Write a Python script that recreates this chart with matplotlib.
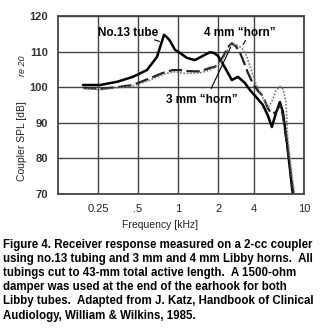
# receiver response on 2-cc coupler, no.13 tube vs Libby horns

import numpy as np
import matplotlib.pyplot as plt

plt.rcParams['font.family'] = ['Liberation Sans', 'DejaVu Sans']

# frequency (kHz) and coupler SPL (dB)
freq_tube = [0.193, 0.259, 0.348, 0.458, 0.584, 0.695, 0.745, 0.785, 0.827, 0.871,
             0.949, 1.035, 1.167, 1.338, 1.534, 1.729, 1.852, 1.983, 2.27, 2.60,
             2.93, 3.35, 3.70, 4.22, 4.72, 5.17, 5.56, 5.99, 6.44, 6.81, 7.33, 8.18]
spl_tube = [100.6, 100.6, 101.5, 102.9, 104.8, 108.5, 112.0, 114.7, 114.0, 113.0,
            110.5, 109.6, 108.2, 107.6, 108.8, 109.8, 109.6, 108.8, 105.5, 102.0,
            102.9, 101.2, 99.2, 97.0, 95.0, 92.0, 88.8, 92.7, 95.8, 93.0, 84.6, 69.5]

freq_3mm = [0.193, 0.259, 0.348, 0.458, 0.616, 0.771, 0.917, 1.035, 1.167, 1.457,
            1.729, 1.884, 2.06, 2.23, 2.41, 2.60, 2.81, 3.04, 3.29, 3.56,
            3.92, 4.30, 4.72, 5.17, 5.56, 5.99, 6.44, 6.81, 7.33, 8.33]
spl_3mm = [99.8, 99.5, 100.0, 100.6, 102.5, 104.0, 104.8, 104.8, 104.5, 104.4,
           105.4, 105.7, 107.3, 109.0, 111.3, 112.3, 111.5, 109.8, 107.0, 104.0,
           101.0, 99.0, 97.5, 94.0, 92.5, 93.0, 95.0, 92.0, 84.0, 69.0]

freq_4mm = [0.193, 0.259, 0.348, 0.458, 0.616, 0.771, 0.917, 1.167, 1.457, 1.729,
            2.06, 2.32, 2.50, 2.81, 3.16, 3.49, 3.77, 4.15, 4.63, 5.17,
            5.56, 5.99, 6.44, 6.81, 7.19, 7.46, 8.03, 8.48]
spl_4mm = [99.6, 99.3, 99.8, 100.3, 102.0, 103.5, 104.3, 103.8, 104.0, 104.8,
           106.5, 109.5, 111.8, 112.0, 111.0, 108.5, 105.0, 101.0, 97.5, 94.1,
           96.0, 99.0, 100.2, 99.5, 96.0, 85.0, 75.3, 69.5]

x_ticks = [0.25, 0.5, 1, 2, 4, 10]
x_labels = ['0.25', '.5', '1', '2', '4', '10']
y_ticks = [70, 80, 90, 100, 110, 120]

caption = ("Figure 4. Receiver response measured on a 2-cc coupler\n"
           "using no.13 tubing and 3 mm and 4 mm Libby horns.  All\n"
           "tubings cut to 43-mm total active length.  A 1500-ohm\n"
           "damper was used at the end of the earhook for both\n"
           "Libby tubes.  Adapted from J. Katz, Handbook of Clinical\n"
           "Audiology, William & Wilkins, 1985.")

# the printed frequency axis is not quite a clean log axis,
# so map octaves piecewise like the original grid
knot_f = np.log2([0.001, 0.125, 0.25, 0.5, 1, 2, 4, 10, 1000])
knot_x = np.array([-224.7, 57.5, 98, 138, 178, 218.5, 254, 304, 555])

def fwd(f):
    f = np.maximum(np.asarray(f, dtype=float), 1e-9)
    return np.interp(np.log2(f), knot_f, knot_x)

def inv(x):
    return 2 ** np.interp(x, knot_x, knot_f)

fig = plt.figure(figsize=(3.25, 3.28), dpi=100)
ax = fig.add_axes([0.177, 0.4085, 0.758, 0.543])
ax.set_xscale('function', functions=(fwd, inv))

ax.plot(freq_tube, spl_tube, color='black', lw=1.8, solid_capstyle='round')
ax.plot(freq_3mm, spl_3mm, color='#222222', lw=1.6, dashes=(6, 2))
ax.plot(freq_4mm, spl_4mm, color='#777777', lw=1.2, linestyle=(0, (1, 1)))

ax.set_xlim(0.125, 10)
ax.set_ylim(70, 120)
ax.set_xticks(x_ticks)
ax.set_xticklabels(x_labels)
ax.set_yticks(y_ticks)
ax.minorticks_off()
ax.grid(True, color='#444444', lw=1.0)
ax.tick_params(length=0, pad=7)
for lab in ax.get_xticklabels():
    lab.set_fontsize(8)
    lab.set_color('#222222')
for lab in ax.get_yticklabels():
    lab.set_fontsize(8)
    lab.set_fontweight('bold')
    lab.set_color('#333333')
for s in ax.spines.values():
    s.set_color('#444444')
    s.set_linewidth(1.3)

ax.set_xlabel('Frequency [kHz]', fontsize=7.5, color='#222222')
ax.xaxis.set_label_coords(0.417, -0.145)

fig.text(0.068, 0.57, 'Coupler SPL [dB]', rotation=90, fontsize=7.5,
         color='#222222', ha='center', va='center')
fig.text(0.068, 0.80, 're 20', rotation=90, fontsize=6.5, style='italic',
         color='#222222', ha='center', va='center')

# curve labels with leader lines
ax.text(0.42, 115.2, 'No.13 tube', fontsize=8.5, fontweight='bold',
        ha='center', va='center')
ax.annotate('', xy=(0.76, 112.6), xytext=(0.637, 113.5),
            arrowprops=dict(arrowstyle='-', color='black', lw=0.8))
ax.text(3.04, 115.2, '4 mm \u201chorn\u201d', fontsize=8.5, fontweight='bold',
        ha='center', va='center')
ax.annotate('', xy=(3.16, 111.3), xytext=(3.49, 113.8),
            arrowprops=dict(arrowstyle='-', color='black', lw=0.8))
ax.text(1.51, 96.4, '3 mm \u201chorn\u201d', fontsize=8.5, fontweight='bold',
        ha='center', va='center')
ax.annotate('', xy=(2.60, 111.9), xytext=(1.73, 98.9),
            arrowprops=dict(arrowstyle='-', color='black', lw=0.8))

fig.text(0.009, 0.272, caption, fontsize=8.3, fontweight='bold', ha='left',
         va='top', linespacing=1.24)

fig.savefig('out.png', dpi=100)
